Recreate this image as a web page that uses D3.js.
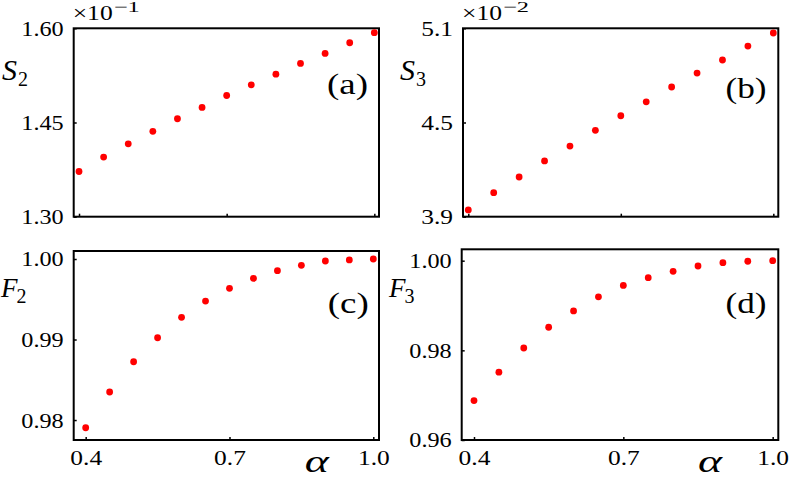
<!DOCTYPE html>
<html>
<head>
<meta charset="utf-8">
<script src="https://cdn.jsdelivr.net/npm/d3@7"></script>
<style>
  html, body { margin: 0; padding: 0; background: #fff; }
  svg { display: block; }
</style>
</head>
<body>
<svg id="chart" width="789" height="480"></svg>
<script>
// ---- data ----
const alpha = [0.40, 0.45, 0.50, 0.55, 0.60, 0.65, 0.70, 0.75, 0.80, 0.85, 0.90, 0.95, 1.00];
const S2 = [1.372, 1.395, 1.416, 1.436, 1.456, 1.474, 1.493, 1.510, 1.527, 1.544, 1.560, 1.577, 1.593]; // x10^-1
const S3 = [3.943, 4.053, 4.153, 4.255, 4.350, 4.450, 4.543, 4.632, 4.726, 4.815, 4.898, 4.987, 5.070]; // x10^-2
const F2 = [0.97904, 0.98348, 0.98724, 0.99022, 0.99276, 0.99478, 0.99636, 0.99760, 0.99855, 0.99922, 0.99975, 0.99988, 1.00000];
const F3 = [0.96880, 0.97514, 0.98052, 0.98515, 0.98880, 0.99194, 0.99449, 0.99620, 0.99763, 0.99881, 0.99955, 0.99987, 1.00000];
const xTicks = [0.4, 0.7, 1.0];
const S2Ticks = [1.30, 1.45, 1.60];
const S3Ticks = [3.9, 4.5, 5.1];
const F2Ticks = [0.98, 0.99, 1.00];
const F3Ticks = [0.96, 0.98, 1.00];

const panels = [
  { id: "a", y: S2, ticks: S2Ticks, fmt: ".2f", sym: "S", sub: "2", mult: "\u22121",
    box: [73.7, 28.3, 379, 216.7], xd: [0.3892, 1.0095], yd: [1.30, 1.60], xlabels: false,
    lab: [2, 80], tag: [347.5, 94] },
  { id: "b", y: S3, ticks: S3Ticks, fmt: ".1f", sym: "S", sub: "3", mult: "\u22122",
    box: [463, 28.3, 778.3, 216.7], xd: [0.3896, 1.0098], yd: [3.9, 5.1], xlabels: false,
    lab: [400, 80], tag: [746, 98] },
  { id: "c", y: F2, ticks: F2Ticks, fmt: ".2f", sym: "F", sub: "2", mult: null,
    box: [73.7, 251, 379, 440], xd: [0.375, 1.0119], yd: [0.97752, 1.000994], xlabels: true,
    lab: [1, 297], tag: [348.3, 313], alphaX: 316.7 },
  { id: "d", y: F3, ticks: F3Ticks, fmt: ".2f", sym: "F", sub: "3", mult: null,
    box: [461.7, 249.3, 778.3, 440], xd: [0.3753, 1.0113], yd: [0.96, 1.00254], xlabels: true,
    lab: [389, 297], tag: [746, 313], alphaX: 710 }
];

const svg = d3.select("#chart");
const serif = "'Liberation Serif', 'DejaVu Serif', serif";

panels.forEach(p => {
  const [x0, y0, x1, y1] = p.box;
  const x = d3.scaleLinear().domain(p.xd).range([x0, x1]);
  const y = d3.scaleLinear().domain(p.yd).range([y1, y0]);
  const g = svg.append("g");

  // x axis (bottom)
  const xa = g.append("g").attr("transform", `translate(0,${y1})`)
    .call(d3.axisBottom(x).tickValues(xTicks).tickSize(-3).tickPadding(10)
      .tickFormat(p.xlabels ? d3.format(".1f") : () => ""));
  // y axis (left)
  const ya = g.append("g").attr("transform", `translate(${x0},0)`)
    .call(d3.axisLeft(y).tickValues(p.ticks).tickSize(-3).tickPadding(10)
      .tickFormat(d3.format(p.fmt)));
  [xa, ya].forEach(a => {
    a.select(".domain").remove();
    a.selectAll(".tick line").attr("stroke", "#000").attr("stroke-width", 1.5);
    a.selectAll(".tick text").attr("font-family", serif).attr("font-size", 20.5).attr("fill", "#000")
      .each(function () {
        const s = d3.select(this).text();
        if (s) d3.select(this).attr("textLength", 10.6 * s.length).attr("lengthAdjust", "spacingAndGlyphs");
      });
  });
  ya.selectAll(".tick text").attr("dy", "0.34em");
  xa.selectAll(".tick text").attr("dy", "0.72em");

  // frame
  g.append("rect").attr("x", x0).attr("y", y0).attr("width", x1 - x0).attr("height", y1 - y0)
    .attr("fill", "none").attr("stroke", "#000").attr("stroke-width", 2);

  // points
  g.selectAll("circle").data(alpha).join("circle")
    .attr("cx", d => x(d)).attr("cy", (d, i) => y(p.y[i])).attr("r", 3.4)
    .attr("fill", "#ff0000");

  // y label
  const t = g.append("text").attr("x", p.lab[0]).attr("y", p.lab[1])
    .attr("font-family", serif).attr("font-style", "italic").attr("font-size", p.sym === "S" ? 30 : 27)
    .attr("fill", "#000");
  t.append("tspan").text(p.sym);
  t.append("tspan").attr("font-style", "normal").attr("font-size", 20)
    .attr("dy", 6).attr("dx", p.sym === "S" ? 1 : -1).text(p.sub);

  // panel tag
  g.append("text").attr("x", p.tag[0]).attr("y", p.tag[1]).attr("text-anchor", "middle")
    .attr("font-family", serif).attr("font-size", 29).attr("fill", "#000")
    .attr("textLength", 41).attr("lengthAdjust", "spacingAndGlyphs")
    .text(`(${p.id})`);

  // multiplier
  if (p.mult) {
    g.append("text").attr("x", x0 - 1).attr("y", 20)
      .attr("font-family", serif).attr("font-size", 20.5).attr("fill", "#000")
      .attr("textLength", 40).attr("lengthAdjust", "spacingAndGlyphs").text("\u00d710");
    g.append("text").attr("x", x0 + 40).attr("y", 12)
      .attr("font-family", serif).attr("font-size", 15).attr("fill", "#000")
      .attr("textLength", 26).attr("lengthAdjust", "spacingAndGlyphs").text(p.mult);
  }

  // alpha label
  if (p.alphaX) {
    g.append("text").attr("x", p.alphaX).attr("y", 472).attr("text-anchor", "middle")
      .attr("font-family", serif).attr("font-style", "italic").attr("font-size", 32)
      .attr("textLength", 24).attr("lengthAdjust", "spacingAndGlyphs")
      .attr("fill", "#000").text("\u03b1");
  }
});
</script>
</body>
</html>
